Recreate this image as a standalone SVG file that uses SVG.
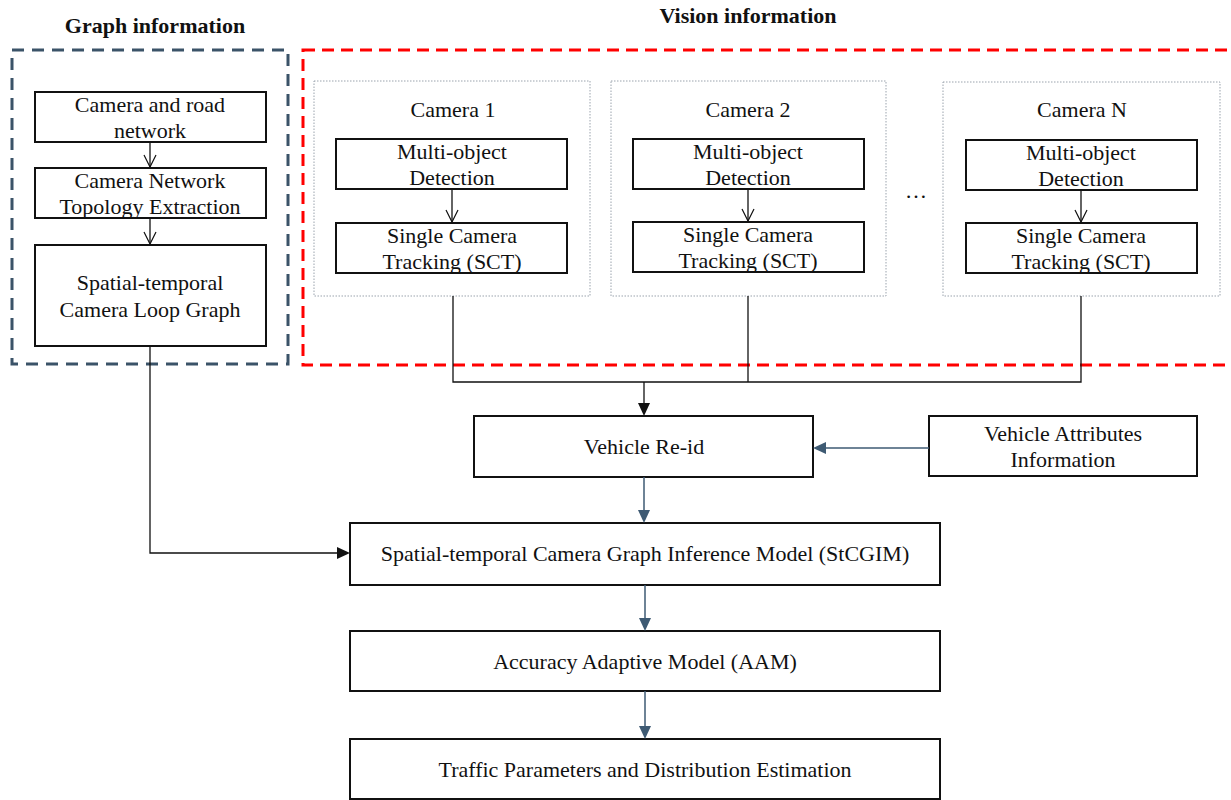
<svg xmlns="http://www.w3.org/2000/svg" width="1231" height="800" viewBox="0 0 1231 800">
<defs>
<style>
text{font-family:"Liberation Serif","Times New Roman",serif;font-size:22px;fill:#111;text-anchor:middle}
.title{font-weight:bold;font-size:22px}
.box{fill:#fff;stroke:#111;stroke-width:2}
.panel{fill:none;stroke:#9aa3ad;stroke-width:1;stroke-dasharray:1.5 1.5}
.ln{fill:none;stroke:#111;stroke-width:1.3}
.sl{fill:none;stroke:#3e5a73;stroke-width:1.5}
</style>
<marker id="open" markerWidth="14" markerHeight="14" refX="13" refY="7" orient="auto" markerUnits="userSpaceOnUse" viewBox="0 0 14 14">
<path d="M1,1 L13,7 L1,13" fill="none" stroke="#111" stroke-width="1.2"/>
</marker>
</defs>
<rect width="1231" height="800" fill="#fff"/>

<g id="graph-info">
<rect x="12" y="50" width="276" height="314" fill="none" stroke="#3b5368" stroke-width="3" stroke-dasharray="12 8"/>
<text class="title" x="155" y="33">Graph information</text>
</g>
<g id="vision-info">
<rect x="303" y="50" width="940" height="315" fill="none" stroke="#ff0000" stroke-width="3" stroke-dasharray="12 7"/>
<text class="title" x="748" y="23">Vision information</text>
</g>

<g id="camera-road">
<rect class="box" x="35" y="92" width="231" height="50"/>
<text x="150" y="112">Camera and road</text>
<text x="150" y="138">network</text>
</g>
<g id="topology">
<rect class="box" x="35" y="168" width="231" height="50"/>
<text x="150" y="188">Camera Network</text>
<text x="150" y="214">Topology Extraction</text>
</g>
<g id="loop-graph">
<rect class="box" x="35" y="245" width="231" height="101"/>
<text x="150" y="290">Spatial-temporal</text>
<text x="150" y="317">Camera Loop Graph</text>
</g>

<g id="camera1">
<rect class="panel" x="314" y="81" width="276" height="215"/>
<text x="453" y="117">Camera 1</text>
<rect class="box" x="336" y="139" width="231" height="50"/>
<text x="452" y="159">Multi-object</text>
<text x="452" y="185">Detection</text>
<rect class="box" x="336" y="223" width="231" height="50"/>
<text x="452" y="243">Single Camera</text>
<text x="452" y="269">Tracking (SCT)</text>
</g>
<g id="camera2">
<rect class="panel" x="611" y="81" width="275" height="215"/>
<text x="748" y="117">Camera 2</text>
<rect class="box" x="633" y="139" width="231" height="50"/>
<text x="748" y="159">Multi-object</text>
<text x="748" y="185">Detection</text>
<rect class="box" x="633" y="222" width="231" height="50"/>
<text x="748" y="242">Single Camera</text>
<text x="748" y="268">Tracking (SCT)</text>
</g>
<g id="dots"><text x="916" y="198">…</text></g>
<g id="cameraN">
<rect class="panel" x="943" y="82" width="277" height="214"/>
<text x="1082" y="117">Camera N</text>
<rect class="box" x="966" y="140" width="231" height="50"/>
<text x="1081" y="160">Multi-object</text>
<text x="1081" y="186">Detection</text>
<rect class="box" x="966" y="223" width="231" height="50"/>
<text x="1081" y="243">Single Camera</text>
<text x="1081" y="269">Tracking (SCT)</text>
</g>

<g id="reid">
<rect class="box" x="474" y="416" width="339" height="61"/>
<text x="644" y="454">Vehicle Re-id</text>
</g>
<g id="attributes">
<rect class="box" x="929" y="416" width="268" height="60"/>
<text x="1063" y="441">Vehicle Attributes</text>
<text x="1063" y="467">Information</text>
</g>
<g id="stcgim">
<rect class="box" x="350" y="523" width="590" height="62"/>
<text x="645" y="561">Spatial-temporal Camera Graph Inference Model (StCGIM)</text>
</g>
<g id="aam">
<rect class="box" x="350" y="631" width="590" height="60"/>
<text x="645" y="669">Accuracy Adaptive Model (AAM)</text>
</g>
<g id="traffic">
<rect class="box" x="350" y="739" width="590" height="60"/>
<text x="645" y="777">Traffic Parameters and Distribution Estimation</text>
</g>

<g id="connectors">
<line class="ln" x1="150" y1="142" x2="150" y2="167" marker-end="url(#open)"/>
<line class="ln" x1="150" y1="218" x2="150" y2="244" marker-end="url(#open)"/>
<line class="ln" x1="452" y1="189" x2="452" y2="222" marker-end="url(#open)"/>
<line class="ln" x1="748" y1="189" x2="748" y2="221" marker-end="url(#open)"/>
<line class="ln" x1="1081" y1="190" x2="1081" y2="222" marker-end="url(#open)"/>
<polyline class="ln" points="453,296 453,382 1081,382 1081,296"/>
<line class="ln" x1="748" y1="296" x2="748" y2="382"/>
<line class="ln" x1="644" y1="382" x2="644" y2="404"/>
<path d="M638,403 L650,403 L644,416 Z" fill="#111"/>
<polyline class="ln" points="150,346 150,553 340,553"/>
<path d="M337,547 L350,553 L337,559 Z" fill="#111"/>
<line class="sl" x1="929" y1="448" x2="824" y2="448"/>
<path d="M826,442 L813,448 L826,454 Z" fill="#3e5a73"/>
<line class="sl" x1="644" y1="477" x2="644" y2="512"/>
<path d="M638,510 L650,510 L644,523 Z" fill="#3e5a73"/>
<line class="sl" x1="645" y1="585" x2="645" y2="620"/>
<path d="M639,618 L651,618 L645,631 Z" fill="#3e5a73"/>
<line class="sl" x1="645" y1="691" x2="645" y2="728"/>
<path d="M639,726 L651,726 L645,739 Z" fill="#3e5a73"/>
</g>
</svg>
